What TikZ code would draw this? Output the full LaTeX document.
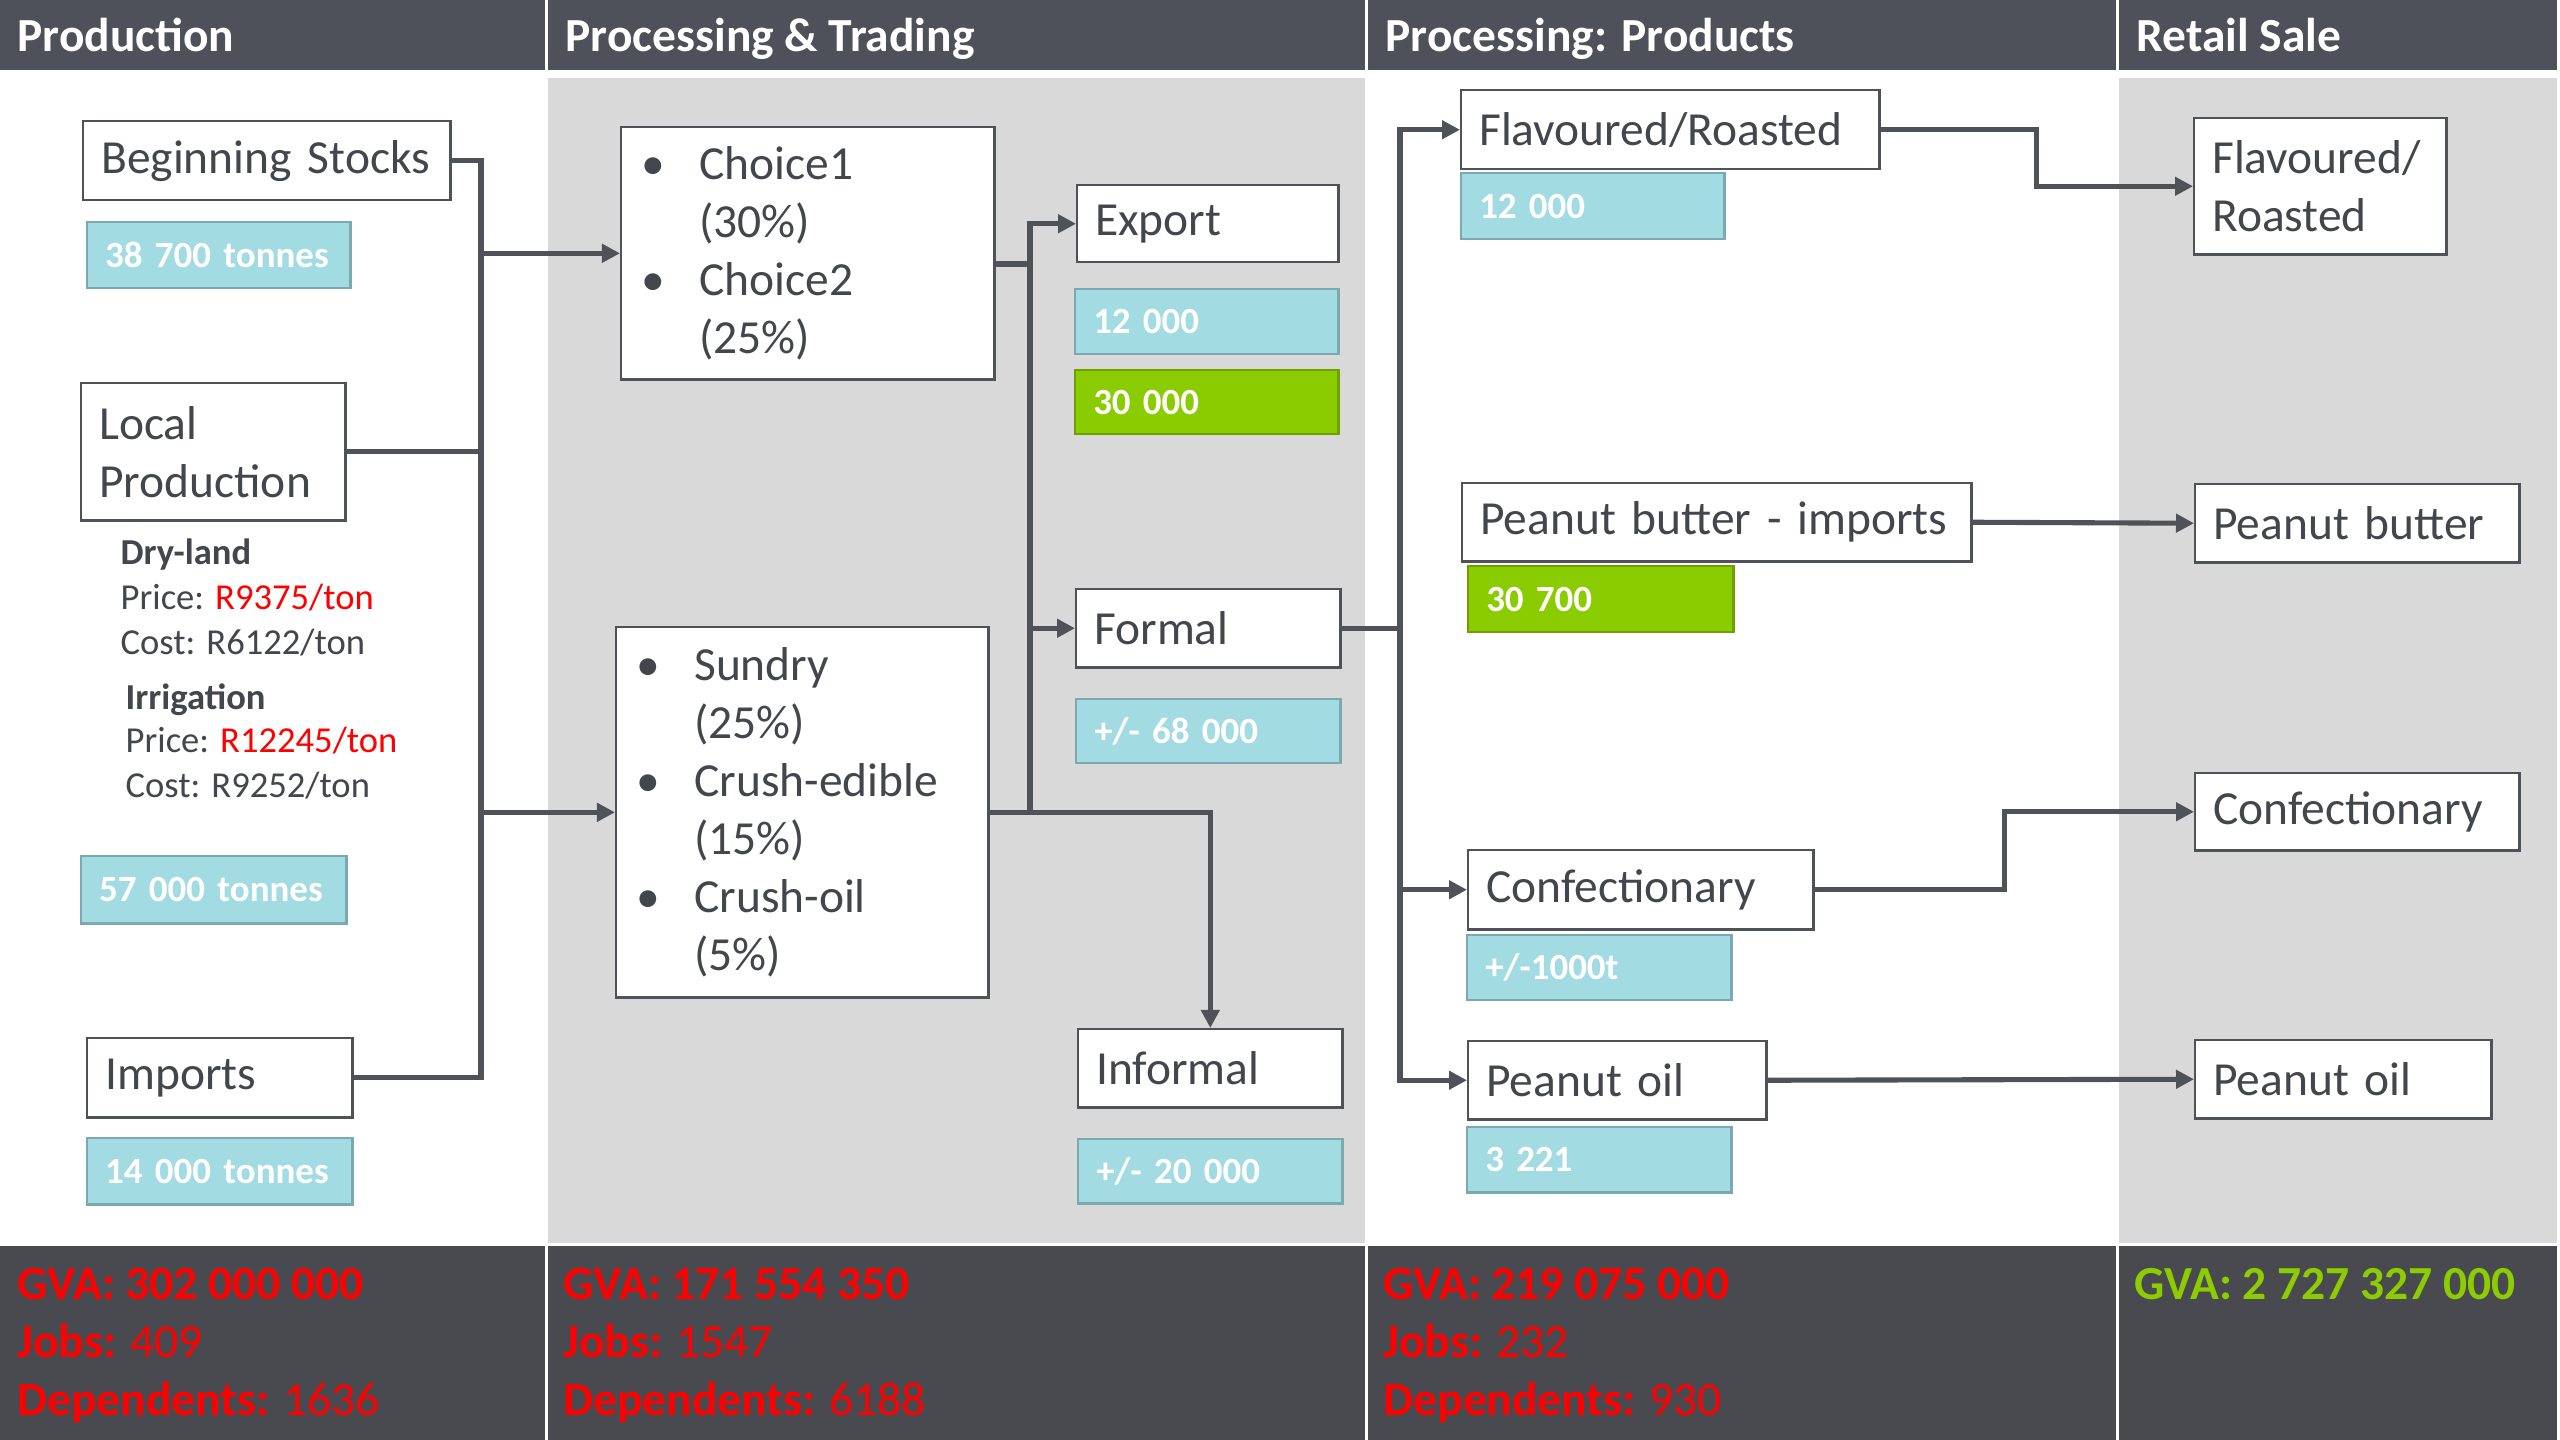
\documentclass[tikz,border=0pt]{standalone}
\usepackage{fontspec}
\setmainfont{Carlito}
\usepackage{tikz}
\usetikzlibrary{calc,arrows.meta}
\definecolor{headgray}{RGB}{78,81,90}
\definecolor{footgray}{RGB}{73,74,80}
\definecolor{bodygray}{RGB}{217,217,217}
\definecolor{linegray}{RGB}{80,82,90}
\definecolor{textgray}{RGB}{68,70,78}
\definecolor{qteal}{RGB}{162,219,226}
\definecolor{qtealline}{RGB}{122,170,176}
\definecolor{qgreen}{RGB}{139,204,0}
\definecolor{qgreenline}{RGB}{110,160,0}
\definecolor{gvared}{RGB}{255,0,0}
\definecolor{gvagreen}{RGB}{140,204,0}
\newcommand{\bulitem}{\makebox[0.58cm][l]{\textbullet}}
\newcommand{\bulpad}{\hspace*{0.58cm}}

\begin{document}
\begin{tikzpicture}[x=0.01cm, y=-0.01cm,
        box/.style={draw=linegray, line width=0.7pt, fill=white, text=textgray, anchor=north west,
            inner xsep=0.18cm, inner ysep=0pt, align=left, font=\fontsize{13.5}{16.5}\selectfont},
        qty/.style={box, draw=qtealline, fill=qteal, text=white, font=\bfseries\fontsize{10.5}{12.6}\selectfont},
        qtyg/.style={qty, draw=qgreenline, fill=qgreen},
        note/.style={anchor=base west, inner sep=0pt, text=textgray, font=\fontsize{10.4}{12.8}\selectfont},
        title/.style={anchor=base west, inner sep=0pt, text=white, font=\bfseries\fontsize{13.5}{16.5}\selectfont},
        gva/.style={anchor=base west, inner sep=0pt, text=gvared, font=\fontsize{13.5}{16.5}\selectfont},
        conn/.style={draw=linegray, line width=1.45pt, line cap=rect},
        arr/.style={conn, -{Triangle[length=0.18cm, width=0.18cm]}}]
                \useasboundingbox (0,0) rectangle (2560,1440);
                \fill[white] (0,0) rectangle (2560,1440);
                \foreach \xa/\xb/\bg/\name [count=\i] in {0/545/white/Production, 548/1365/bodygray/Processing \& Trading,
                    1368/2116/white/Processing: Products, 2119/2557/bodygray/Retail Sale} {
                    \fill[headgray] (\xa,0) rectangle (\xb,70);
                    \fill[\bg] (\xa,78) rectangle (\xb,1243);
                    \fill[footgray] (\xa,1246) rectangle (\xb,1440);
                    \node[title] (H\i) at (\xa+17,52) {\name};
                }
                \foreach \xa/\gv/\jb/\dep [count=\i] in {17/302 000 000/409/1636, 563/171 554 350/1547/6188,
                    1383/219 075 000/232/930} {
                    \node[gva] (G\i) at (\xa,1299) {\textbf{GVA: \gv}};
                    \node[gva] (J\i) at (\xa,1357) {\textbf{Jobs:} \jb};
                    \node[gva] (D\i) at (\xa,1415) {\textbf{Dependents:} \dep};
                }
                \node[gva, text=gvagreen] (G4) at (2134,1299) {\textbf{GVA: 2 727 327 000}};

                \node[box, minimum height=0.79cm, text width=3.31cm] (Stocks) at (82,120) {Beginning Stocks};
                \node[qty, minimum height=0.66cm, text width=2.27cm] (StocksQ) at (86,221) {38 700 tonnes};
                \node[box, minimum height=1.37cm, text width=2.28cm] (Local) at (80,382) {Local\\Production};
                \node[note] (Dry) at (120,565) {\textbf{Dry-land}};
                \node[note] (DryP) at (120,610) {Price: \textcolor{gvared}{R9375/ton}};
                \node[note] (DryC) at (120,655) {Cost: R6122/ton};
                \node[note] (Irr) at (125,710) {\textbf{Irrigation}};
                \node[note] (IrrP) at (125,753) {Price: \textcolor{gvared}{R12245/ton}};
                \node[note] (IrrC) at (125,798) {Cost: R9252/ton};
                \node[qty, minimum height=0.67cm, text width=2.29cm] (LocalQ) at (80,855) {57 000 tonnes};
                \node[box, minimum height=0.79cm, text width=2.29cm] (Imports) at (86,1037) {Imports};
                \node[qty, minimum height=0.66cm, text width=2.29cm] (ImportsQ) at (86,1137) {14 000 tonnes};

                \node[box, minimum height=2.52cm, text width=3.33cm, inner xsep=0.2cm] (Choice) at (620,126)
                    {\bulitem Choice1\\\bulpad(30\%)\\\bulitem Choice2\\\bulpad(25\%)};
                \node[box, minimum height=3.70cm, text width=3.32cm, inner xsep=0.2cm] (Sundry) at (615,626)
                    {\bulitem Sundry\\\bulpad(25\%)\\\bulitem Crush-edible\\\bulpad(15\%)\\\bulitem Crush-oil\\\bulpad(5\%)};
                \node[box, minimum height=0.77cm, text width=2.25cm] (Export) at (1076,184) {Export};
                \node[qty, minimum height=0.65cm, text width=2.27cm] (ExportQ) at (1074,288) {12 000};
                \node[qtyg, minimum height=0.64cm, text width=2.27cm] (ExportG) at (1074,369) {30 000};
                \node[box, minimum height=0.78cm, text width=2.28cm] (Formal) at (1075,588) {Formal};
                \node[qty, minimum height=0.64cm, text width=2.28cm] (FormalQ) at (1075,698) {+/- 68 000};
                \node[box, minimum height=0.78cm, text width=2.28cm] (Informal) at (1077,1028) {Informal};
                \node[qty, minimum height=0.64cm, text width=2.28cm] (InformalQ) at (1077,1138) {+/- 20 000};

                \node[box, minimum height=0.79cm, text width=3.82cm] (Flav) at (1460,89) {Flavoured/Roasted};
                \node[qty, minimum height=0.66cm, text width=2.27cm] (FlavQ) at (1460,172) {12 000};
                \node[box, minimum height=0.78cm, text width=4.73cm] (Butter) at (1461,482) {Peanut butter - imports};
                \node[qtyg, minimum height=0.66cm, text width=2.29cm] (ButterG) at (1467,565) {30 700};
                \node[box, minimum height=0.79cm, text width=3.09cm] (Conf) at (1467,849) {Confectionary};
                \node[qty, minimum height=0.65cm, text width=2.28cm] (ConfQ) at (1466,934) {+/-1000t};
                \node[box, minimum height=0.78cm, text width=2.62cm] (Oil) at (1467,1040) {Peanut oil};
                \node[qty, minimum height=0.65cm, text width=2.28cm] (OilQ) at (1466,1126) {3 221};

                \node[box, minimum height=1.36cm, text width=2.16cm] (RFlav) at (2193,117) {Flavoured/\\Roasted};
                \node[box, minimum height=0.78cm, text width=2.88cm] (RButter) at (2194,483) {Peanut butter};
                \node[box, minimum height=0.77cm, text width=2.88cm] (RConf) at (2194,772) {Confectionary};
                \node[box, minimum height=0.78cm, text width=2.60cm] (ROil) at (2194,1039) {Peanut oil};

                \coordinate (T1) at (481,0);
                \coordinate (T2) at (1030,0);
                \coordinate (C2) at (1030,264);
                \coordinate (T3) at (1400,0);
                \draw[conn] (Stocks.east) -| (T1 |- Imports.east) -- (Imports.east);
                \draw[conn] (Local.east) -- (Local.east -| T1);
                \draw[arr] (T1 |- Choice.west) -- (Choice.west);
                \draw[arr] (T1 |- Sundry.west) -- (Sundry.west);
                \draw[conn] (C2 -| Choice.east) -- (C2);
                \draw[conn] (T2 |- Export.west) -- (T2 |- Sundry.east);
                \draw[arr] (T2 |- Export.west) -- (Export.west);
                \draw[arr] (T2 |- Formal.west) -- (Formal.west);
                \draw[arr] (Sundry.east) -| (Informal.north);
                \draw[conn] (Formal.east) -- (Formal.east -| T3);
                \draw[conn] (T3 |- Flav.west) -- (T3 |- Oil.west);
                \foreach \n in {Flav, Conf, Oil} {
                    \draw[arr] (T3 |- \n.west) -- (\n.west);
                }
                \draw[arr] (Flav.east) -| ($(Flav.east)!0.5!(RFlav.west)$) |- (RFlav.west);
                \draw[arr] (Conf.east) -| ($(Conf.east)!0.5!(RConf.west)$) |- (RConf.west);
                \draw[arr] (Butter.east) -- (RButter.west);
                \draw[arr] (Oil.east) -- (ROil.west);
            \end{tikzpicture}
\end{document}
